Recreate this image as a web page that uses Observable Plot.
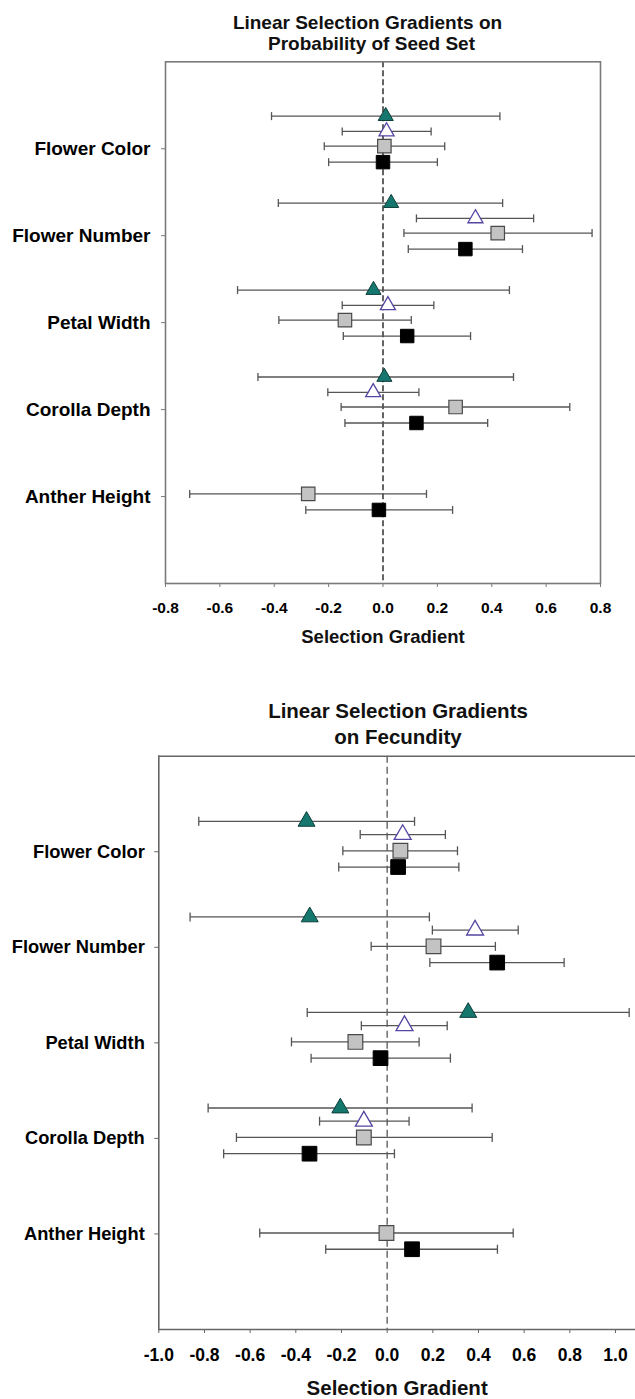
<!DOCTYPE html>
<html><head><meta charset="utf-8">
<script src="https://cdn.jsdelivr.net/npm/d3@7"></script>
<script src="https://cdn.jsdelivr.net/npm/@observablehq/plot@0.6"></script>
<style>
body{margin:0;background:#fff;font-family:"Liberation Sans",Arial,sans-serif;}
#page{position:relative;width:635px;height:1399px;overflow:hidden;background:#fff;}
.title{position:absolute;font-weight:bold;color:#111;white-space:nowrap;transform:translate(-50%,-50%);line-height:1;}
.chart{position:absolute;left:0;}
</style></head><body><div id="page"></div>
<script>
// ---------- data ----------
const traits = ["Flower Color", "Flower Number", "Petal Width", "Corolla Depth", "Anther Height"];
const seriesKeys = ["tealTriangle", "openTriangle", "graySquare", "blackSquare"];
const xTicksSeed = [-0.8, -0.6, -0.4, -0.2, 0.0, 0.2, 0.4, 0.6, 0.8];
const xTicksFec = [-1.0, -0.8, -0.6, -0.4, -0.2, 0.0, 0.2, 0.4, 0.6, 0.8, 1.0];

// Probability of seed set
const seedTealEst = [0.01, 0.03, -0.035, 0.005, null];
const seedTealLo  = [-0.41, -0.385, -0.535, -0.46, null];
const seedTealHi  = [0.43, 0.44, 0.465, 0.48, null];
const seedOpenEst = [0.013, 0.34, 0.018, -0.036, null];
const seedOpenLo  = [-0.15, 0.123, -0.15, -0.203, null];
const seedOpenHi  = [0.177, 0.554, 0.187, 0.132, null];
const seedGrayEst = [0.005, 0.422, -0.14, 0.267, -0.275];
const seedGrayLo  = [-0.216, 0.077, -0.383, -0.154, -0.711];
const seedGrayHi  = [0.227, 0.769, 0.104, 0.687, 0.16];
const seedBlackEst = [0.0, 0.303, 0.089, 0.123, -0.015];
const seedBlackLo  = [-0.2, 0.093, -0.146, -0.14, -0.284];
const seedBlackHi  = [0.2, 0.513, 0.322, 0.385, 0.256];

// Fecundity
const fecTealEst = [-0.353, -0.339, 0.355, -0.205, null];
const fecTealLo  = [-0.825, -0.863, -0.35, -0.784, null];
const fecTealHi  = [0.12, 0.185, 1.06, 0.372, null];
const fecOpenEst = [0.068, 0.385, 0.076, -0.102, null];
const fecOpenLo  = [-0.118, 0.198, -0.113, -0.296, null];
const fecOpenHi  = [0.255, 0.574, 0.263, 0.096, null];
const fecGrayEst = [0.058, 0.203, -0.139, -0.102, -0.003];
const fecGrayLo  = [-0.194, -0.07, -0.419, -0.66, -0.558];
const fecGrayHi  = [0.308, 0.474, 0.14, 0.46, 0.552];
const fecBlackEst = [0.048, 0.482, -0.029, -0.34, 0.109];
const fecBlackLo  = [-0.212, 0.187, -0.333, -0.716, -0.269];
const fecBlackHi  = [0.314, 0.775, 0.277, 0.032, 0.483];

// ---------- helpers ----------
function rowsFor(est, lo, hi, key) {
  const out = [];
  est.forEach((v, i) => { if (v != null) out.push({trait: traits[i], idx: i + 1, series: key, est: v, lo: lo[i], hi: hi[i]}); });
  return out;
}
const capSymbol = {draw(ctx, size) { const h = Math.sqrt(size / Math.PI); ctx.moveTo(0, -h); ctx.lineTo(0, h); }};

const styles = {
  tealTriangle: {symbol: "triangle", fill: "#16776f", stroke: "#0d3d39", strokeWidth: 1},
  openTriangle: {symbol: "triangle", fill: "#ffffff", stroke: "#5346a3", strokeWidth: 1.3},
  graySquare:   {symbol: "square", fill: "#c3c3c3", stroke: "#4a4a4a", strokeWidth: 1.2},
  blackSquare:  {symbol: "square", fill: "#000000", stroke: "#000000", strokeWidth: 1}
};

function makeChart(cfg) {
  const marks = [Plot.ruleX([0], {stroke: cfg.zeroColor, strokeWidth: 1.3, strokeDasharray: cfg.dash})];
  cfg.series.forEach(s => {
    const off = cfg.offsets[s.key];
    const yf = d => d.idx + off;
    const st = styles[s.key];
    const r = st.symbol === "square" ? cfg.rSquare : cfg.rTri;
    marks.push(
      Plot.link(s.rows, {x1: "lo", x2: "hi", y1: yf, y2: yf, stroke: cfg.barColor, strokeWidth: 1.3}),
      Plot.dot(s.rows, {x: "lo", y: yf, symbol: capSymbol, r: cfg.capR, fill: "none", stroke: cfg.barColor, strokeWidth: 1.3}),
      Plot.dot(s.rows, {x: "hi", y: yf, symbol: capSymbol, r: cfg.capR, fill: "none", stroke: cfg.barColor, strokeWidth: 1.3}),
      Plot.dot(s.rows, {x: "est", y: yf, symbol: st.symbol, r, fill: st.fill, stroke: st.stroke, strokeWidth: st.strokeWidth})
    );
  });
  cfg.frames.forEach(a => marks.push(a ? Plot.frame({anchor: a, stroke: cfg.frameColor, strokeWidth: 1.6}) : Plot.frame({stroke: cfg.frameColor, strokeWidth: 1.6})));
  marks.push(
    Plot.axisX({ticks: cfg.xTicks, tickFormat: d => d.toFixed(1), tickSize: 4, tickPadding: cfg.xPad, fontSize: cfg.xFont, stroke: cfg.frameColor, fill: "#000", label: null}),
    Plot.axisY({ticks: [1, 2, 3, 4, 5], tickFormat: d => traits[d - 1], tickSize: 4, tickPadding: cfg.yPad, fontSize: cfg.yFont, stroke: cfg.frameColor, fill: "#000", label: null}),
    Plot.text(["Selection Gradient"], {frameAnchor: "bottom", dy: cfg.labelDy, lineAnchor: "middle", fontSize: cfg.labelFont, fontWeight: "bold", fill: "#111"})
  );
  return Plot.plot({
    width: 635, height: cfg.height,
    marginLeft: cfg.ml, marginRight: cfg.mr, marginTop: cfg.mt, marginBottom: cfg.mb,
    x: {domain: cfg.xDomain},
    y: {domain: [0, 6], reverse: true},
    style: {fontFamily: '"Liberation Sans", Arial, sans-serif', fontWeight: "bold", background: "white", overflow: "visible"},
    marks
  });
}

const page = document.getElementById("page");
function addTitle(text, cx, cy, size) {
  const d = document.createElement("div");
  d.className = "title"; d.textContent = text;
  d.style.left = cx + "px"; d.style.top = cy + "px"; d.style.fontSize = size + "px";
  page.appendChild(d);
}

// Chart 1
const c1 = makeChart({
  height: 665, ml: 165, mr: 35, mt: 61.3, mb: 82,
  xDomain: [-0.8, 0.8], xTicks: xTicksSeed,
  offsets: {tealTriangle: -0.375, openTriangle: -0.199, graySquare: -0.03, blackSquare: 0.154},
  series: [
    {key: "tealTriangle", rows: rowsFor(seedTealEst, seedTealLo, seedTealHi, "tealTriangle")},
    {key: "openTriangle", rows: rowsFor(seedOpenEst, seedOpenLo, seedOpenHi, "openTriangle")},
    {key: "graySquare", rows: rowsFor(seedGrayEst, seedGrayLo, seedGrayHi, "graySquare")},
    {key: "blackSquare", rows: rowsFor(seedBlackEst, seedBlackLo, seedBlackHi, "blackSquare")}
  ],
  rTri: 5.6, rSquare: 7.6, capR: 4,
  zeroColor: "#111", dash: "6,3", barColor: "#555", frameColor: "#7a7a7a",
  frames: [null], xPad: 14, xFont: 15.5, yPad: 11, yFont: 19, labelDy: 53.7, labelFont: 18.5
});
c1.classList.add("chart"); c1.style.top = "0px";
page.appendChild(c1);

// Chart 2
const c2 = makeChart({
  height: 734, ml: 158.3, mr: 0, mt: 90.7, mb: 70,
  xDomain: [-1.0, 1.0876], xTicks: xTicksFec,
  offsets: {tealTriangle: -0.318, openTriangle: -0.18, graySquare: -0.01, blackSquare: 0.16},
  series: [
    {key: "tealTriangle", rows: rowsFor(fecTealEst, fecTealLo, fecTealHi, "tealTriangle")},
    {key: "openTriangle", rows: rowsFor(fecOpenEst, fecOpenLo, fecOpenHi, "openTriangle")},
    {key: "graySquare", rows: rowsFor(fecGrayEst, fecGrayLo, fecGrayHi, "graySquare")},
    {key: "blackSquare", rows: rowsFor(fecBlackEst, fecBlackLo, fecBlackHi, "blackSquare")}
  ],
  rTri: 6.3, rSquare: 8.3, capR: 4.5,
  zeroColor: "#555", dash: "7,4", barColor: "#555", frameColor: "#666",
  frames: ["top", "left", "bottom"], xPad: 14.7, xFont: 17.5, yPad: 10, yFont: 18.3, labelDy: 59.3, labelFont: 20.5
});
c2.classList.add("chart"); c2.style.top = "665px";
page.appendChild(c2);

addTitle("Linear Selection Gradients on", 367.5, 21.7, 19);
addTitle("Probability of Seed Set", 371.5, 43.3, 19);
addTitle("Linear Selection Gradients", 398, 710.7, 20.5);
addTitle("on Fecundity", 398, 736.7, 20.5);
</script>
</body></html>
